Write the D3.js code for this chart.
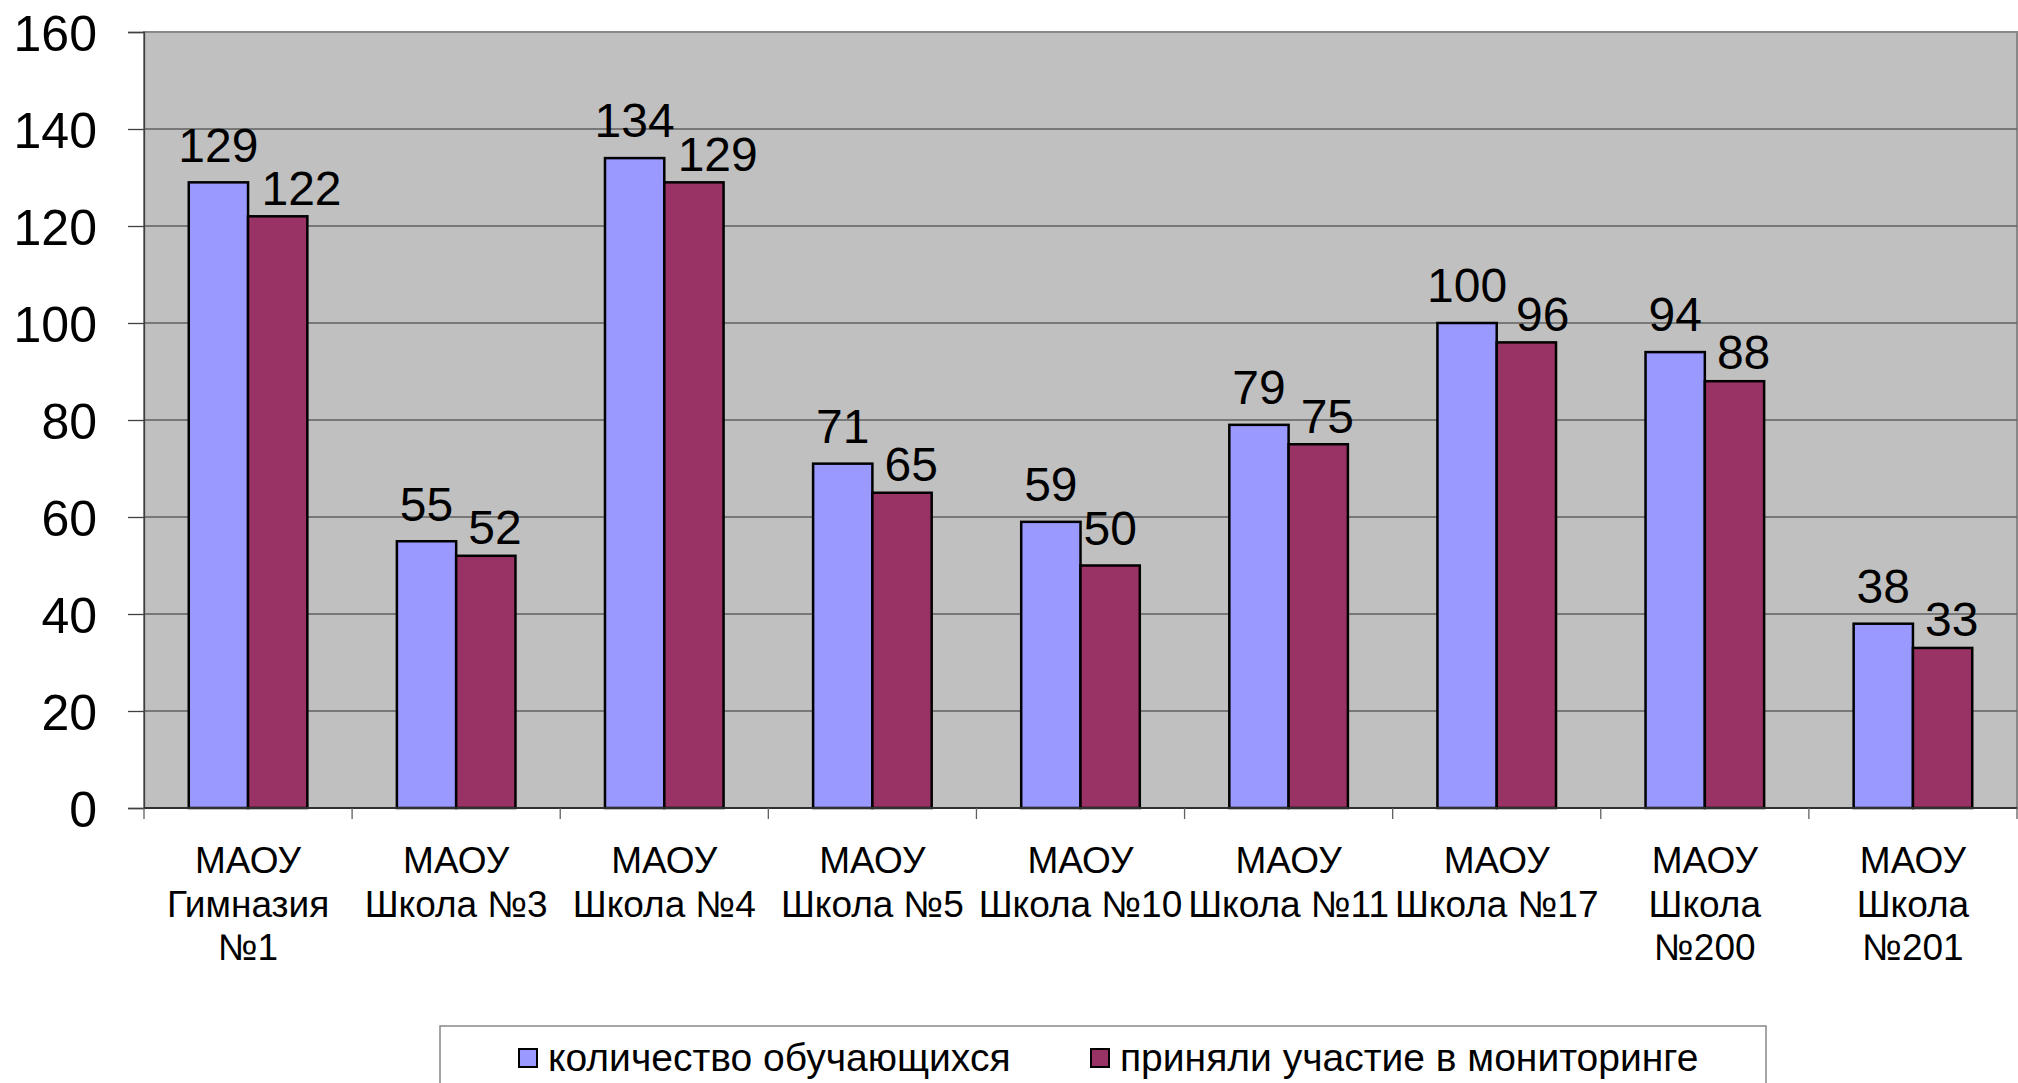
<!DOCTYPE html>
<html>
<head>
<meta charset="utf-8">
<script src="https://cdn.jsdelivr.net/npm/d3@7"></script>
<style>
  html, body { margin: 0; padding: 0; background: #fff; }
  svg { display: block; }
  text { font-family: "Liberation Sans", Arial, sans-serif; fill: #000; }
</style>
</head>
<body>
<svg id="chart" width="2018" height="1083"></svg>
<script>
// ---- data ----
const categories = [
  ["МАОУ", "Гимназия", "№1"],
  ["МАОУ", "Школа №3"],
  ["МАОУ", "Школа №4"],
  ["МАОУ", "Школа №5"],
  ["МАОУ", "Школа №10"],
  ["МАОУ", "Школа №11"],
  ["МАОУ", "Школа №17"],
  ["МАОУ", "Школа", "№200"],
  ["МАОУ", "Школа", "№201"]
];
const seriesNames = ["количество обучающихся", "приняли участие в мониторинге"];
const students = [129, 55, 134, 71, 59, 79, 100, 94, 38];
const participated = [122, 52, 129, 65, 50, 75, 96, 88, 33];
const yTicks = [0, 20, 40, 60, 80, 100, 120, 140, 160];
const colors = ["#9999FF", "#993366"];

// ---- layout ----
const svg = d3.select("#chart");
const plot = { left: 144, right: 2017, top: 32, bottom: 808 };

const x = d3.scaleBand().domain(d3.range(categories.length))
  .range([plot.left, plot.right]).paddingInner(0).paddingOuter(0);
const xs = d3.scaleBand().domain([0, 1]).range([0, x.bandwidth()])
  .paddingInner(0).paddingOuter(0.755);
const y = d3.scaleLinear().domain([0, 160]).range([plot.bottom, plot.top]);

// plot background
svg.append("rect")
  .attr("x", plot.left).attr("y", plot.top)
  .attr("width", plot.right - plot.left).attr("height", plot.bottom - plot.top)
  .attr("fill", "#C0C0C0").attr("stroke", "#888").attr("stroke-width", 2);

// gridlines
svg.append("g").selectAll("line").data(yTicks.filter(t => t > 0 && t < 160)).join("line")
  .attr("x1", plot.left).attr("x2", plot.right)
  .attr("y1", d => y(d)).attr("y2", d => y(d))
  .attr("stroke", "#606060").attr("stroke-width", 1.3);

// y axis
const yAxis = d3.axisLeft(y).tickValues(yTicks).tickSize(16).tickPadding(30);
const gy = svg.append("g").attr("transform", `translate(${plot.left},0)`).call(yAxis);
gy.select(".domain").attr("stroke", "#404040").attr("stroke-width", 1.3);
gy.selectAll(".tick line").attr("stroke", "#404040").attr("stroke-width", 1.3);
gy.selectAll(".tick text").attr("font-size", 50).attr("font-family", "Liberation Sans, Arial, sans-serif")
  .attr("fill", "#000").attr("dy", "0.36em").attr("x", 97 - plot.left);

// bars
const groups = svg.append("g").selectAll("g").data(categories.map((c, i) => i)).join("g")
  .attr("transform", i => `translate(${x(i)},0)`);

const barData = i => [
  { s: 0, v: students[i] },
  { s: 1, v: participated[i] }
];

groups.selectAll("rect").data(i => barData(i)).join("rect")
  .attr("x", d => xs(d.s)).attr("width", xs.bandwidth())
  .attr("y", d => y(d.v)).attr("height", d => y(0) - y(d.v))
  .attr("fill", d => colors[d.s]).attr("stroke", "#000").attr("stroke-width", 2.5);

// x axis line + ticks at category boundaries
svg.append("line").attr("x1", plot.left).attr("x2", plot.right)
  .attr("y1", plot.bottom).attr("y2", plot.bottom)
  .attr("stroke", "#303030").attr("stroke-width", 2);
svg.append("g").selectAll("line").data(d3.range(categories.length + 1)).join("line")
  .attr("x1", i => plot.left + i * x.step()).attr("x2", i => plot.left + i * x.step())
  .attr("y1", plot.bottom).attr("y2", plot.bottom + 11)
  .attr("stroke", "#606060").attr("stroke-width", 1.3);

// category labels
const catG = svg.append("g");
categories.forEach((lines, i) => {
  const t = catG.append("text").attr("text-anchor", "middle").attr("font-size", 37)
    .attr("x", x(i) + x.bandwidth() / 2).attr("y", 873);
  lines.forEach((ln, k) => {
    t.append("tspan").attr("x", x(i) + x.bandwidth() / 2).attr("dy", k === 0 ? 0 : 43.5).text(ln);
  });
});

// value labels with simple overlap avoidance (red label pushed right/down)
const labG = svg.append("g");
const labelFont = 48;
categories.forEach((c, i) => {
  const bx = x(i);
  const blueCx = bx + xs(0) + xs.bandwidth() / 2;
  const redCx = bx + xs(1) + xs.bandwidth() / 2;
  const blueCy = y(students[i]) - 38;
  const bt = labG.append("text").attr("text-anchor", "middle").attr("font-size", labelFont)
    .attr("x", blueCx).attr("y", blueCy).attr("dy", "0.36em").text(students[i]);
  const bb = bt.node().getBBox();
  const redCy = y(participated[i]) - 38;
  const rt = labG.append("text").attr("text-anchor", "middle").attr("font-size", labelFont)
    .attr("x", redCx).attr("y", redCy).attr("dy", "0.36em").text(participated[i]);
  const rb = rt.node().getBBox();
  const vOverlap = Math.abs(redCy - blueCy) < labelFont * 0.8;
  if (vOverlap) {
    const extra = (String(students[i]).length - 2) + (String(participated[i]).length - 2);
    const gap = 15 - 6 * extra;
    const need = blueCx + bb.width / 2 + rb.width / 2 + gap;
    rt.attr("x", Math.max(redCx, need)).attr("y", redCy + 9);
  }
});

// legend
const lg = svg.append("g");
lg.append("rect").attr("x", 440).attr("y", 1026).attr("width", 1326).attr("height", 80)
  .attr("fill", "#fff").attr("stroke", "#888").attr("stroke-width", 1.5);
const legendItems = [
  { sq: 519, tx: 548 },
  { sq: 1091, tx: 1120 }
];
seriesNames.forEach((name, k) => {
  lg.append("rect").attr("x", legendItems[k].sq).attr("y", 1049).attr("width", 18).attr("height", 18)
    .attr("fill", colors[k]).attr("stroke", "#000").attr("stroke-width", 2);
  lg.append("text").attr("x", legendItems[k].tx).attr("y", 1071).attr("font-size", 39).text(name);
});
</script>
</body>
</html>
